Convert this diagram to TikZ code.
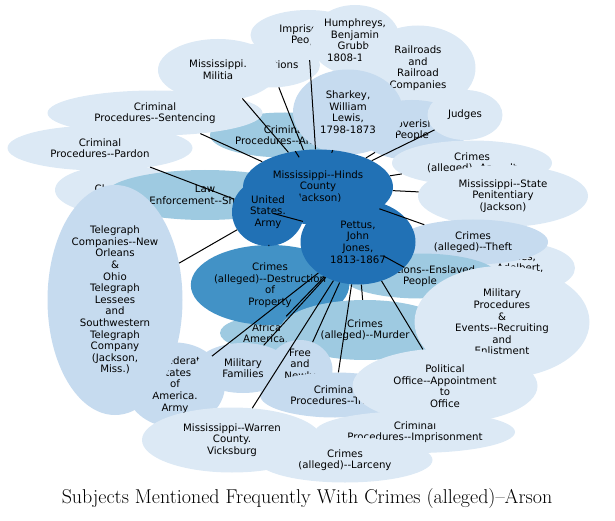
\documentclass[tikz,border=0pt]{standalone}
\usepackage{fontspec}
\newfontfamily\lblfont{DejaVu Sans}
\usetikzlibrary{shapes.geometric}
\definecolor{cA}{HTML}{DCE9F5}
\definecolor{cB}{HTML}{C6DBEF}
\definecolor{cC}{HTML}{9ECAE1}
\definecolor{cD}{HTML}{4292C6}
\definecolor{cE}{HTML}{2171B5}
\tikzset{
  subj/.style={ellipse, inner sep=0pt, align=center, font=\lblfont\fontsize{10.2}{11.6}\selectfont},
  link/.style={draw=black, line width=1pt}
}
\begin{document}
\begin{tikzpicture}[x=1pt,y=-1pt]
		\useasboundingbox (0,0) rectangle (615,521);
		%outer nodes
		\node (Plantations) at (270,65) [subj, fill=cA, minimum width=100, minimum height=45]{Plantations};
		\node (Imprisoned) at (308,35) [subj, fill=cA, minimum width=115, minimum height=50]{Imprisoned\\People};
		\node (Humphreys) at (355,40) [subj, fill=cA, minimum width=90, minimum height=70]{Humphreys,\\Benjamin\\Grubb,\\1808-1882};
		\node (Railroads) at (418,68) [subj, fill=cA, minimum width=115, minimum height=85]{Railroads\\and\\Railroad\\Companies};
		\node (Militia) at (218,70) [subj, fill=cA, minimum width=120, minimum height=62]{Mississippi.\\Militia};
		\node (Arrests) at (285,135) [subj, fill=cC, minimum width=150, minimum height=45]{Criminal\\Procedures--Arrests};
		\node (Sentencing) at (155,113) [subj, fill=cA, minimum width=215, minimum height=45]{Criminal\\Procedures--Sentencing};
		\node (Pardon) at (100,148) [subj, fill=cA, minimum width=185, minimum height=45]{Criminal\\Procedures--Pardon};
		\node (Impoverished) at (412,130) [subj, fill=cB, minimum width=110, minimum height=60]{Impoverished\\People};
		\node (Sharkey) at (348,112) [subj, fill=cB, minimum width=110, minimum height=85]{Sharkey,\\William\\Lewis,\\1798-1873};
		\node (Judges) at (465,115) [subj, fill=cA, minimum width=75, minimum height=50]{Judges};
		\node (Assault) at (472,163) [subj, fill=cA, minimum width=160, minimum height=45]{Crimes\\(alleged)--Assault};
		\node (Penitentiary) at (503,196) [subj, fill=cA, minimum width=170, minimum height=62]{Mississippi--State\\Penitentiary\\(Jackson)};
		\node (Clemency) at (120,190) [subj, fill=cA, minimum width=130, minimum height=50]{Clemency};
		\node (Sheriffs) at (205,195) [subj, fill=cC, minimum width=200, minimum height=50]{Law\\Enforcement--Sheriffs};
		\node (Ames) at (520,268) [subj, fill=cA, minimum width=110, minimum height=50]{Ames,\\Adelbert,\\1835-1933};
		\node (Theft) at (473,242) [subj, fill=cB, minimum width=150, minimum height=45]{Crimes\\(alleged)--Theft};
		\node (Enslaved) at (420,276) [subj, fill=cC, minimum width=110, minimum height=45]{Plantations--Enslaved\\People};
		\node (Confederate) at (175,385) [subj, fill=cB, minimum width=100, minimum height=85]{Confederate\\States\\of\\America.\\Army};
		\node (Telegraph) at (115,300) [subj, fill=cB, minimum width=135, minimum height=230]{Telegraph\\Companies--New\\Orleans\\\&\\Ohio\\Telegraph\\Lessees\\and\\Southwestern\\Telegraph\\Company\\(Jackson,\\Miss.)};
		\node (African) at (270,333) [subj, fill=cC, minimum width=100, minimum height=35]{African\\Americans};
		\node (Destruction) at (270,285) [subj, fill=cD, minimum width=130, minimum height=80]{Crimes\\(alleged)--Destruction\\of\\Property};
		\node (Families) at (243,368) [subj, fill=cB, minimum width=95, minimum height=50]{Military\\Families};
		\node (Murder) at (365,330) [subj, fill=cC, minimum width=170, minimum height=60]{Crimes\\(alleged)--Murder};
		\node (Freed) at (300,370) [subj, fill=cB, minimum width=65, minimum height=60]{Free\\and\\Newly\\Freed};
		\node (Recruiting) at (502,322) [subj, fill=cA, minimum width=175, minimum height=112]{Military\\Procedures\\\&\\Events--Recruiting\\and\\Enlistment};
		\node (Trials) at (335,395) [subj, fill=cB, minimum width=150, minimum height=45]{Criminal\\Procedures--Trials};
		\node (Imprisonment) at (415,432) [subj, fill=cA, minimum width=200, minimum height=42]{Criminal\\Procedures--Imprisonment};
		\node (Appointment) at (445,386) [subj, fill=cA, minimum width=185, minimum height=75]{Political\\Office--Appointment\\to\\Office};
		\node (Larceny) at (345,460) [subj, fill=cA, minimum width=175, minimum height=45]{Crimes\\(alleged)--Larceny};
		\node (Warren) at (232,440) [subj, fill=cA, minimum width=180, minimum height=65]{Mississippi--Warren\\County.\\Vicksburg};
		
		%central nodes
		\node (Hinds) at (318,187) [subj, fill=cE, minimum width=150, minimum height=75]{Mississippi--Hinds\\County\\(Jackson)};
		\node (Army) at (268,212) [subj, fill=cE, minimum width=72, minimum height=68]{United\\States.\\Army};
		\node (Pettus) at (358,242) [subj, fill=cE, minimum width=115, minimum height=85]{Pettus,\\John\\Jones,\\1813-1867};
		
		%links
		\foreach \n in {Militia, Plantations, Imprisoned, Sharkey, Impoverished, Judges, Sentencing, Arrests, Assault, Penitentiary, Theft}
		  \draw[link] (Hinds) -- (\n);
		\foreach \n in {Pardon, Sheriffs, Telegraph, Destruction}
		  \draw[link] (Army) -- (\n);
		\foreach \n in {Enslaved, Murder, Families, Freed, Trials, Warren, Appointment, Confederate, African}
		  \draw[link] (Pettus) -- (\n);
		
		\node (Title) at (307,499) [font=\fontsize{20}{23}\selectfont]{Subjects Mentioned Frequently With Crimes (alleged)--Arson};
\end{tikzpicture}
\end{document}
